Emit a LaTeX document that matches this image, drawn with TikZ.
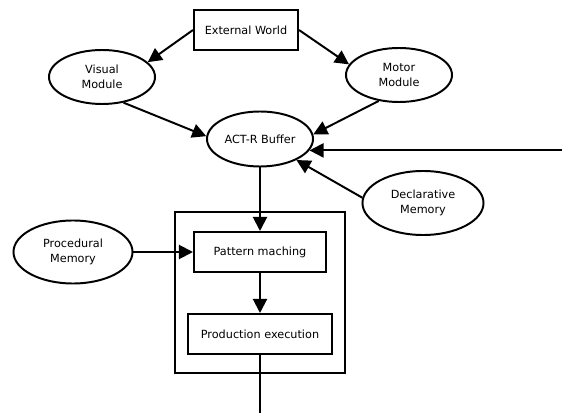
\documentclass[tikz,border=0pt]{standalone}
\usepackage{fontspec}
\setmainfont{DejaVu Sans}
\usetikzlibrary{shapes.geometric,arrows.meta,positioning,calc}

\begin{document}
\begin{tikzpicture}[x=0.025cm,y=-0.025cm,
    font=\fontsize{8}{10.7}\selectfont,
    every node/.style={line width=1.4pt,align=center,inner sep=0pt},
    oval/.style={draw,ellipse},
    box/.style={draw,rectangle,minimum height=1cm},
    link/.style={line width=1.4pt,-{Triangle[length=10pt,width=10pt]}}]
  \useasboundingbox (0,0) rectangle (562,413);

  % Modules
  \node[box,minimum width=2.6cm] (ext) at (246,30) {External World};
  \node[oval,minimum width=2.65cm,minimum height=1.35cm] (vis) at (102,77) {Visual\\Module};
  \node[oval,minimum width=2.65cm,minimum height=1.35cm] (mot) at (399,75) {Motor\\Module};
  \node[oval,minimum width=2.65cm,minimum height=1.375cm] (buf) at (260,139) {ACT-R Buffer};
  \node[oval,minimum width=3.025cm,minimum height=1.6cm] (decl) at (423,203) {Declarative\\Memory};
  \node[oval,minimum width=2.975cm,minimum height=1.575cm] (proc) at (73,252) {Procedural\\Memory};

  % Production system
  \node[draw,minimum width=4.25cm,minimum height=4.025cm] (outer) at (260,292.5) {};
  \node[box,minimum width=3.3cm] (pat) at (260,252) {Pattern maching};
  \node[box,minimum width=3.6cm] (prod) at (260,334) {Production execution};

  % Free ends
  \coordinate (edge) at (562,0);
  \coordinate (in) at (buf.-13 -| edge);
  \coordinate (out) at (260,413);

  % Connectors
  \draw[link] (ext.west) -- (vis.18);
  \draw[link] (ext.east) -- (mot.168);
  \draw[link] (vis.-50) -- (buf.177);
  \draw[link] (mot.-128) -- (buf.5);
  \draw[link] (in) -- (buf.-13);
  \draw[link] (decl.175) -- (buf.-30);
  \draw[link] (buf.south) -- (pat.north);
  \draw[link] (proc.east) -- (pat.west);
  \draw[link] (pat.south) -- (prod.north);
  \draw[line width=1.4pt] (prod.south) -- (out);

\end{tikzpicture}
\end{document}
